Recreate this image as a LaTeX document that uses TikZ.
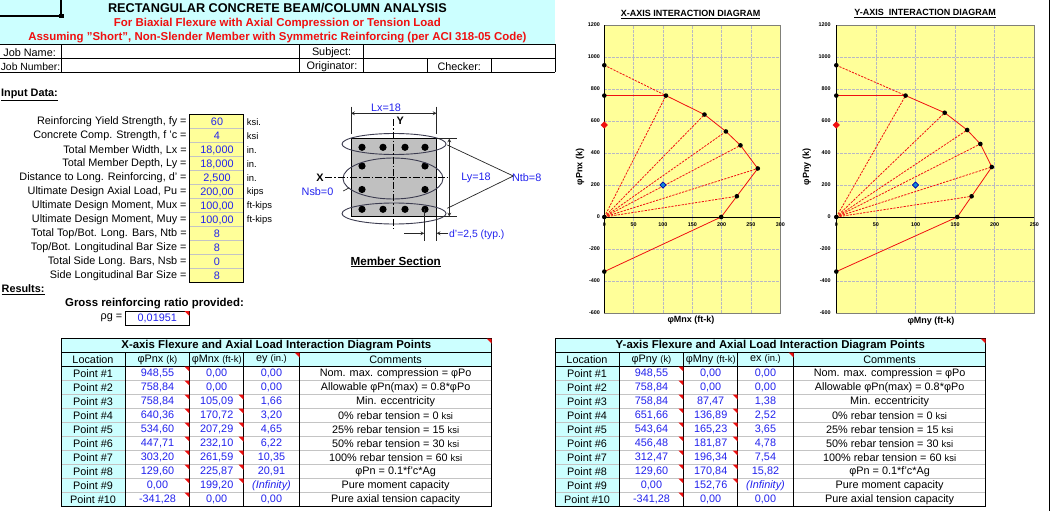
\documentclass[tikz,border=0pt]{standalone}
\usepackage{fontspec}
\setmainfont{Liberation Sans}
\usetikzlibrary{shapes.geometric}
\definecolor{sheetcyan}{HTML}{CCFFFF}
\definecolor{sheetyellow}{HTML}{FFFF99}
\definecolor{valueblue}{HTML}{2222EE}
\definecolor{sheetred}{HTML}{F01010}
\definecolor{hairgray}{HTML}{C4C4C4}
\definecolor{gridgray}{HTML}{B8B8C4}
\definecolor{framegray}{HTML}{808078}
\definecolor{sectiongray}{HTML}{C0C0C0}
\definecolor{hoopgray}{HTML}{3C3C50}
\newcommand{\cellfont}{\fontsize{10.85}{12}\selectfont}
\newcommand{\headfont}{\fontsize{11.4}{13}\selectfont\bfseries}
\newcommand{\unitfont}{\fontsize{9.4}{12}\selectfont}
\newcommand{\tickfont}{\fontsize{5.4}{6}\selectfont\bfseries}
\newcommand{\chartfont}{\fontsize{9}{11}\selectfont\bfseries}
\tikzset{
  every node/.style={font=\cellfont,inner sep=0pt,text=black},
  cellline/.style={line width=0.9pt},
  hairline/.style={line width=0.8pt,hairgray},
  val/.style={text=valueblue},
  gridline/.style={line width=0.7pt,gridgray,dash pattern=on 3pt off 1pt},
  curve/.style={line width=0.8pt,sheetred},
  fanline/.style={line width=0.8pt,sheetred,dash pattern=on 2.2pt off 1.2pt},
  dot/.style={circle,fill=black,minimum size=4.6pt},
  loadmark/.style={diamond,fill=sheetred,minimum size=7.5pt},
  usermark/.style={diamond,draw=blue!70!black,fill=cyan!70!blue,line width=0.6pt,minimum size=6.5pt},
  bar/.style={circle,fill=black,minimum size=7.2pt},
  dim/.style={line width=0.7pt,black!85},
  dimarrow/.style={line width=0.7pt,black!85,<->,>=stealth},
  hoop/.style={line width=0.9pt,hoopgray},
  axisline/.style={line width=0.7pt,black,dash pattern=on 7pt off 2pt on 1.5pt off 2pt},
}
\newcommand{\notemark}[2]{\fill[sheetred] (#1,#2) -- ++(-5,0) -- ++(5,5) -- cycle;}
% frame of one chart, #1 = prefix, #2 = largest moment
\newcommand{\chartframe}[2]{
  \fill[sheetyellow] (0,-600) rectangle (#2,1200);
  \foreach \gx in {50,100,...,#2} {
    \ifnum\gx<#2 \draw[gridline] (\gx,-600) -- (\gx,1200); \fi
  }
  \foreach \gy in {-400,-200,200,400,600,800,1000} \draw[gridline] (0,\gy) -- (#2,\gy);
  \draw[line width=0.9pt,framegray] (0,1200) -- (#2,1200) -- (#2,-600) -- (0,-600);
  \draw[line width=0.8pt] (0,-600) -- (0,1200);
  \draw[line width=0.8pt] (0,0) -- (#2,0);
  \foreach \gy in {-600,-400,...,1200} \node[anchor=east,font=\tickfont] (#1ytick\gy) at (-7,\gy) {\gy};
  \foreach \gx in {0,50,...,#2} \node[font=\tickfont] (#1xtick\gx) at (\gx,-50) {\gx};
}
% curve through ten points, #1 = prefix, #2 = points
\newcommand{\chartcurve}[2]{
  \coordinate (#1org) at (0,0);
  \foreach \m/\p [count=\n] in {#2} \coordinate (#1p\n) at (\m,\p);
  \foreach \n in {3,...,8} \draw[fanline] (#1org) -- (#1p\n);
  \draw[fanline] (#1p1) -- (#1p3);
  \draw[curve] (#1p2) -- (#1p3) -- (#1p4) -- (#1p5) -- (#1p6) -- (#1p7) -- (#1p8) -- (#1p9) -- (#1p10);
  \foreach \n in {1,...,10} \node[dot] (#1dot\n) at (#1p\n) {};
  \node[dot] (#1dot0) at (#1org) {};
  \node[loadmark] (#1load) at (0,575) {};
  \node[usermark] (#1user) at (100,200) {};
}
% table, #1 = prefix, #2 = title, #3,#4,#5 = heads, #6 = rows
\newcommand{\pointtable}[6]{
  \fill[sheetcyan] (0,338.5) rectangle (430.6,366.5);
  \fill[sheetcyan] (0,366.5) rectangle (64.5,506.5);
  \foreach \n in {1,...,9} \draw[hairline] (0,366.5+14*\n) -- (430.6,366.5+14*\n);
  \draw[cellline] (0,338.5) rectangle (430.6,506.5);
  \draw[cellline] (0,352.5) -- (430.6,352.5);
  \draw[cellline] (0,366.5) -- (430.6,366.5);
  \foreach \x in {64.5,128.3,182.5,238.5} \draw[cellline] (\x,352.5) -- (\x,506.5);
  \node[font=\headfont] (#1title) at (215.3,345.5) {#2};
  \node (#1loc) at (32,359.5) {Location};
  \node (#1phead) at (96.5,359.5) {#3};
  \node (#1mhead) at (155.7,359.5) {#4};
  \node (#1ehead) at (210.5,359.5) {#5};
  \node (#1chead) at (334.6,359.5) {Comments};
  \foreach \p/\m/\e [count=\n] in {#6} {
    \node (#1pt\n) at (32,359.5+14*\n) {Point \#\n};
    \node[val] (#1pv\n) at (96.5,359.5+14*\n) {\p};
    \node[val] (#1mv\n) at (155.7,359.5+14*\n) {\m};
    \node[val] (#1ev\n) at (210.5,359.5+14*\n) {\e};
    \notemark{128.3}{352.5+14*\n}
  }
  \foreach \n in {3,...,9} {\notemark{182.5}{352.5+14*\n}}
  \notemark{238.5}{352.5}
  \notemark{430.6}{338.5}
  \foreach \n/\t in {1/Nom. max. compression = φPo,
                     2/Allowable φPn(max) = 0.8*φPo,
                     3/Min. eccentricity,
                     4/0\% rebar tension = 0 {\unitfont ksi},
                     5/25\% rebar tension = 15 {\unitfont ksi},
                     6/50\% rebar tension = 30 {\unitfont ksi},
                     7/100\% rebar tension = 60 {\unitfont ksi},
                     8/φPn = 0.1*f'c*Ag,
                     9/Pure moment capacity,
                     10/Pure axial tension capacity}
    \node (#1cm\n) at (334.6,359.5+14*\n) {\t};
}
\begin{document}
\begin{tikzpicture}[x=1pt,y=-1pt]
\useasboundingbox (0,0) rectangle (1050,511);
\fill[white] (0,0) rectangle (1050,511);
\draw[line width=1pt] (1049.4,0) -- (1049.4,511);

% heading
\fill[sheetcyan] (0,0) rectangle (555.3,44.3);
\draw[line width=2pt] (0,16) -- (61.4,16) -- (61.4,0);
\fill (59,13.6) rectangle (63.8,18.4);
\node[font=\fontsize{12.7}{16}\selectfont\bfseries] (maintitle) at (277.4,8) {RECTANGULAR CONCRETE BEAM/COLUMN ANALYSIS};
\node[font=\fontsize{11.45}{13}\selectfont\bfseries,text=sheetred] (subtitle) at (277.4,24) {For Biaxial Flexure with Axial Compression or Tension Load};
\node[font=\fontsize{11.45}{13}\selectfont\bfseries,text=sheetred] (assume) at (277.4,38) {Assuming "Short", Non-Slender Member with Symmetric Reinforcing (per ACI 318-05 Code)};
\draw[cellline] (0,44.3) -- (555.3,44.3) (0,58.3) -- (555.3,58.3) (0,72.3) -- (555.3,72.3);
\draw[cellline] (61.4,44.3) -- (61.4,72.3) (299.3,44.3) -- (299.3,72.3) (363.6,44.3) -- (363.6,72.3) (555.3,44.3) -- (555.3,72.3);
\draw[cellline] (427.4,58.3) -- (427.4,72.3) (491.4,58.3) -- (491.4,72.3);
\node (jobname) at (29.6,52.3) {Job Name:};
\node[anchor=west,font=\fontsize{10.4}{12}\selectfont] (jobnumber) at (0.6,66.3) {Job Number:};
\node (subject) at (331.6,52.3) {Subject:};
\node (originator) at (332,66.3) {Originator:};
\node (checker) at (459.3,66.3) {Checker:};

% input data
\node[anchor=west,font=\cellfont\bfseries] (inputhead) at (1,95) {\underline{Input Data:}};
\fill[sheetyellow] (189.7,114.7) rectangle (243.3,282.7);
\foreach \n in {1,...,11} \draw[hairline] (189.7,114.7+14*\n) -- (243.3,114.7+14*\n);
\draw[line width=1pt] (189.7,114.7) rectangle (243.3,282.7);
\foreach \l/\v/\u [count=\n] in {
    {Reinforcing Yield Strength, fy =}/60/ksi.,
    {Concrete Comp. Strength, f 'c =}/4/ksi,
    {Total Member Width, Lx =}/{18,000}/in.,
    {Total Member Depth, Ly =}/{18,000}/in.,
    {Distance to Long. Reinforcing, d' =}/{2,500}/in.,
    {Ultimate Design Axial Load, Pu =}/{200,00}/kips,
    {Ultimate Design Moment, Mux =}/{100,00}/ft-kips,
    {Ultimate Design Moment, Muy =}/{100,00}/ft-kips,
    {Total Top/Bot. Long. Bars, Ntb =}/8/{},
    {Top/Bot. Longitudinal Bar Size =}/8/{},
    {Total Side Long. Bars, Nsb =}/0/{},
    {Side Longitudinal Bar Size =}/8/{}} {
  \node[anchor=east] (inlabel\n) at (186.8,108+14*\n) {\l};
  \node[val] (invalue\n) at (217,108+14*\n) {\v};
  \node[anchor=west,font=\unitfont] (inunit\n) at (246.7,108+14*\n) {\u};
}
\node[anchor=west,font=\cellfont\bfseries] (resulthead) at (1.5,290) {\underline{Results:}};
\node[font=\headfont] (grosshead) at (154.5,304) {Gross reinforcing ratio provided:};
\node[anchor=east] (rholabel) at (122.5,318) {ρg =};
\draw[line width=1pt] (125.5,311) rectangle (189.3,325);
\notemark{189.3}{311}
\node[val] (rhovalue) at (157.3,318) {0,01951};

% member section
\fill[sectiongray] (351,138.3) rectangle (436.6,216.7);
\draw[cellline] (351,138.3) rectangle (436.6,216.7);
\foreach \x/\y in {362/147.3,383/147.3,405/147.3,425/147.3,362/166,425/166,362/189.5,425/189.5,362/209.3,383/209.3,405/209.3,425/209.3}
  \node[bar] (bar\x-\y) at (\x,\y) {};
\draw[hoop] (394,144) ellipse (52 and 10.5);
\draw[hoop] (394,213.5) ellipse (52 and 10.5);
\draw[hoop] (393,178.5) ellipse (50 and 20.5);
\draw[axisline] (393.7,119) -- (393.7,229);
\draw[axisline] (325,177.3) -- (447,177.3);
\draw[dim] (351,106.7) -- (351,134) (436.6,106.7) -- (436.6,134);
\draw[dimarrow] (351,113.3) -- (436.6,113.3);
\node[val] (lxlabel) at (386,108) {Lx=18};
\node[font=\cellfont\bfseries] (ylabel) at (400.3,120.7) {Y};
\node[font=\cellfont\bfseries] (xlabel) at (320,177.3) {X};
\node[val] (nsblabel) at (317.5,192) {Nsb=0};
\draw[dim] (343.3,191) -- (349.3,187.7);
\draw[dim] (436.6,138.3) -- (456.7,138.3) (436.6,216.7) -- (456.7,216.7);
\draw[dimarrow] (449.3,138.5) -- (449.3,216.5);
\node[val] (lylabel) at (476,178) {Ly=18};
\node[val] (ntblabel) at (526.7,178) {Ntb=8};
\coordinate (ntbtip) at (513.3,176);
\draw[dim] (ntbtip) -- (447.3,145);
\draw[dim] (ntbtip) -- (447.3,208.3);
\draw[dim] (424.3,209) -- (424.3,240.7) (436.6,216.7) -- (436.6,240.7);
\draw[dim,->,>=stealth] (404.3,233.3) -- (424.3,233.3);
\draw[dim,->,>=stealth] (448.3,233.3) -- (436.6,233.3);
\node[anchor=west,val,font=\fontsize{10.4}{12}\selectfont] (dlabel) at (449,234.6) {d'=2,5 (typ.)};
\node[font=\fontsize{11.7}{13}\selectfont\bfseries] (sectionname) at (395.7,262) {\underline{Member Section}};

% interaction diagrams
\node[font=\chartfont] (xcharttitle) at (690.7,14.5) {\underline{X-AXIS INTERACTION DIAGRAM}};
\node[font=\chartfont,rotate=90] (xchartp) at (580,167) {φPnx (k)};
\node[font=\chartfont] (xchartm) at (691,320) {φMnx (ft-k)};
\begin{scope}[shift={(604.3,217)},x=0.5867pt,y=0.16pt]
\chartframe{xc}{300}
\chartcurve{xc}{0/948.55,0/758.84,105.09/758.84,170.72/640.36,207.29/534.60,232.10/447.71,261.59/303.20,225.87/129.60,199.20/0,0/-341.28}
\end{scope}
\node[font=\chartfont] (ycharttitle) at (925,13.5) {\underline{Y-AXIS\ \ INTERACTION DIAGRAM}};
\node[font=\chartfont,rotate=90] (ychartp) at (806.7,167) {φPny (k)};
\node[font=\chartfont] (ychartm) at (931,321) {φMny (ft-k)};
\begin{scope}[shift={(836.3,217)},x=0.792pt,y=0.16pt]
\chartframe{yc}{250}
\chartcurve{yc}{0/948.55,0/758.84,87.47/758.84,136.89/651.66,165.23/543.64,181.87/456.48,196.34/312.47,170.84/129.60,152.76/0,0/-341.28}
\end{scope}

% point tables
\begin{scope}[xshift=61pt]
\pointtable{xt}{X-axis Flexure and Axial Load Interaction Diagram Points}{φPnx {\unitfont(k)}}{φMnx {\unitfont(ft-k)}}{ey {\unitfont(in.)}}{
  {948,55}/{0,00}/{0,00},{758,84}/{0,00}/{0,00},{758,84}/{105,09}/{1,66},{640,36}/{170,72}/{3,20},{534,60}/{207,29}/{4,65},
  {447,71}/{232,10}/{6,22},{303,20}/{261,59}/{10,35},{129,60}/{225,87}/{20,91},{0,00}/{199,20}/{\textit{(Infinity)}},{-341,28}/{0,00}/{0,00}}
\end{scope}
\begin{scope}[xshift=555pt]
\pointtable{yt}{Y-axis Flexure and Axial Load Interaction Diagram Points}{φPny {\unitfont(k)}}{φMny {\unitfont(ft-k)}}{ex {\unitfont(in.)}}{
  {948,55}/{0,00}/{0,00},{758,84}/{0,00}/{0,00},{758,84}/{87,47}/{1,38},{651,66}/{136,89}/{2,52},{543,64}/{165,23}/{3,65},
  {456,48}/{181,87}/{4,78},{312,47}/{196,34}/{7,54},{129,60}/{170,84}/{15,82},{0,00}/{152,76}/{\textit{(Infinity)}},{-341,28}/{0,00}/{0,00}}
\end{scope}
\end{tikzpicture}
\end{document}
